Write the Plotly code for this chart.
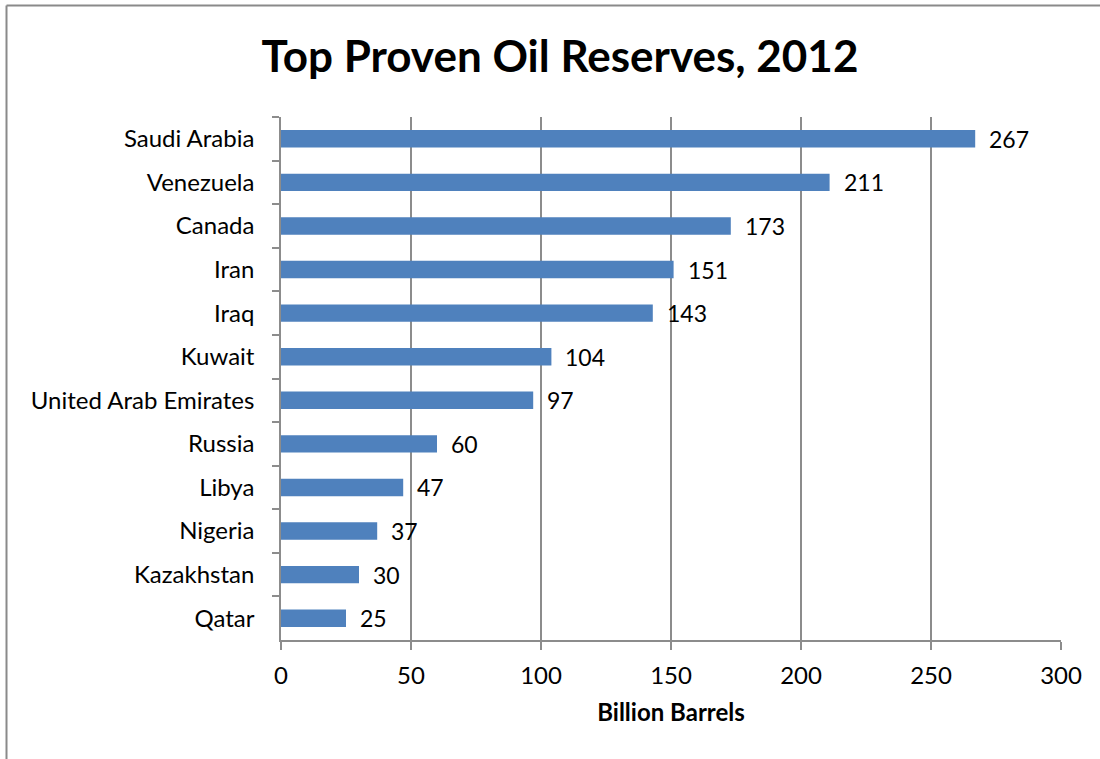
import plotly.graph_objects as go

countries = ["Saudi Arabia", "Venezuela", "Canada", "Iran", "Iraq", "Kuwait",
             "United Arab Emirates", "Russia", "Libya", "Nigeria", "Kazakhstan", "Qatar"]
reserves = [267, 211, 173, 151, 143, 104, 97, 60, 47, 37, 30, 25]
x_ticks = [0, 50, 100, 150, 200, 250, 300]
title_text = "Top Proven Oil Reserves, 2012"
x_title = "Billion Barrels"

FONT = "Lato, 'Open Sans', sans-serif"
GRID = "#8c8c8c"

fig = go.Figure(go.Bar(
    x=reserves, y=countries, orientation="h",
    marker=dict(color="#4F81BD", line=dict(width=0)),
    hoverinfo="x+y",
))

for c, v in zip(countries, reserves):
    fig.add_annotation(x=v, y=c, text=str(v), showarrow=False,
                       xanchor="left", xshift=12, yshift=0,
                       font=dict(family=FONT, size=23, color="black"))

L, R, T, B = 281, 39, 117, 119
W, H = 1100, 759
pw, ph = W - L - R, H - T - B

# outer chart frame (only top and left edges fall inside the picture)
bx = (6.5 - L) / pw
by = (H - B - 5.5) / ph
fig.add_shape(type="line", xref="paper", yref="paper",
              x0=bx, x1=(W - L) / pw, y0=by, y1=by,
              line=dict(color="#8a8a8a", width=2))
fig.add_shape(type="line", xref="paper", yref="paper",
              x0=bx, x1=bx, y0=by, y1=(H - B - H) / ph,
              line=dict(color="#8a8a8a", width=2))

fig.update_layout(
    width=W, height=H,
    margin=dict(l=L, r=R, t=T, b=B),
    paper_bgcolor="white", plot_bgcolor="white",
    bargap=0.6,
    showlegend=False,
    font=dict(family=FONT, size=24, color="black"),
    title=dict(text="<b>" + title_text + "</b>", x=560 / W, xanchor="center",
               y=1 - 57 / H, yanchor="middle",
               font=dict(family=FONT, size=44, color="black")),
    xaxis=dict(range=[0, 300], tickvals=x_ticks, showgrid=True,
               gridcolor=GRID, gridwidth=1.5, showline=True, linecolor=GRID,
               linewidth=1.5, ticks="outside", ticklen=8, tickcolor=GRID,
               tickwidth=1.5, zeroline=False, ticklabelstandoff=5,
               tickfont=dict(family=FONT, size=24),
               title=dict(text="<b>" + x_title + "</b>", standoff=17,
                          font=dict(family=FONT, size=24))),
    yaxis=dict(type="category", autorange="reversed", tickson="boundaries",
               ticks="outside", ticklen=7, tickcolor=GRID, tickwidth=1.5,
               showline=True, linecolor=GRID, linewidth=1.5, showgrid=False,
               ticklabelstandoff=20,
               tickfont=dict(family=FONT, size=24)),
)

fig.write_html(
    "out.html",
    config={"displayModeBar": False},
    post_script="document.documentElement.style.overflow='hidden';"
                "document.body.style.overflow='hidden';"
                "document.body.style.margin='0';",
)
